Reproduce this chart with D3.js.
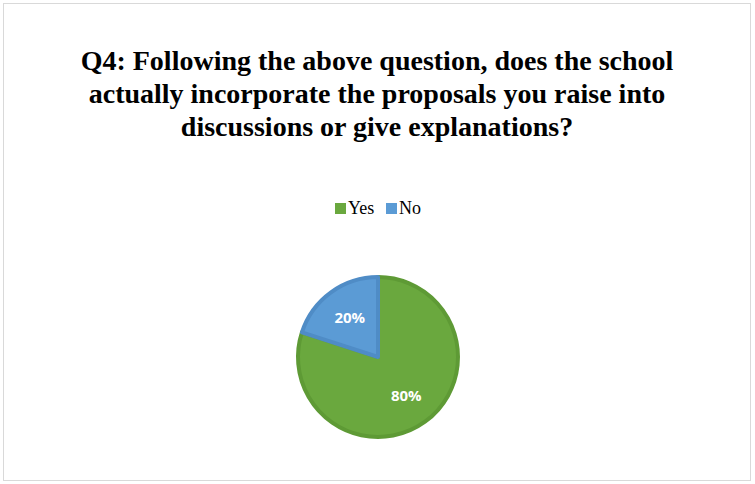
<!DOCTYPE html>
<html>
<head>
<meta charset="utf-8">
<script src="https://cdn.jsdelivr.net/npm/d3@7"></script>
<style>
  html, body { margin: 0; padding: 0; background: #fff; }
  svg { display: block; }
</style>
</head>
<body>
<svg id="chart" width="755" height="484"></svg>
<script>
// Survey answers for Q4
const categories = ["Yes", "No"];
const shares = [80, 20];
const sliceColors = ["#6aa83e", "#5b9bd5"];
const sliceStrokes = ["#5e9a35", "#4f8cc6"];
const titleLines = [
  "Q4: Following the above question, does the school",
  "actually incorporate the proposals you raise into",
  "discussions or give explanations?"
];

const svg = d3.select("#chart");
const W = 755, H = 484;

// chart frame
svg.append("rect")
  .attr("x", 3.5).attr("y", 3.5)
  .attr("width", W - 8).attr("height", H - 7)
  .attr("fill", "#fff").attr("stroke", "#d9d9d9").attr("stroke-width", 1);

// title
svg.append("g").selectAll("text").data(titleLines).join("text")
  .attr("x", 377).attr("y", (d, i) => 70 + i * 33)
  .attr("text-anchor", "middle")
  .attr("font-family", "'Liberation Serif', 'Times New Roman', serif")
  .attr("font-weight", "bold").attr("font-size", 28)
  .attr("fill", "#000")
  .text(d => d);

// legend
const legend = svg.append("g").attr("transform", "translate(335,214)");
const legendX = [0, 51];
const items = legend.selectAll("g").data(categories).join("g")
  .attr("transform", (d, i) => `translate(${legendX[i]},0)`);
items.append("rect")
  .attr("x", 0).attr("y", -11).attr("width", 11).attr("height", 11)
  .attr("fill", (d, i) => sliceColors[i]);
items.append("text")
  .attr("x", 13).attr("y", 0)
  .attr("font-family", "'Liberation Serif', 'Times New Roman', serif")
  .attr("font-size", 18).attr("fill", "#000")
  .text(d => d);

// pie
const cx = 378, cy = 357, R = 80;
const pie = d3.pie().sort(null).value(d => d)(shares);
const arc = d3.arc().innerRadius(0).outerRadius(R);
const labelArc = d3.arc().innerRadius(R * 0.6).outerRadius(R * 0.6);

const g = svg.append("g").attr("transform", `translate(${cx},${cy})`);
g.selectAll("path").data(pie).join("path")
  .attr("d", arc)
  .attr("fill", (d, i) => sliceColors[i])
  .attr("stroke", (d, i) => sliceStrokes[i])
  .attr("stroke-width", 4)
  .attr("stroke-linejoin", "round");

g.selectAll("text").data(pie).join("text")
  .attr("transform", d => `translate(${labelArc.centroid(d)})`)
  .attr("text-anchor", "middle").attr("dy", "0.35em")
  .attr("font-family", "'Open Sans', 'Liberation Sans', sans-serif")
  .attr("font-weight", "bold").attr("font-size", 15)
  .attr("fill", "#fff")
  .text(d => d.data + "%");
</script>
</body>
</html>
